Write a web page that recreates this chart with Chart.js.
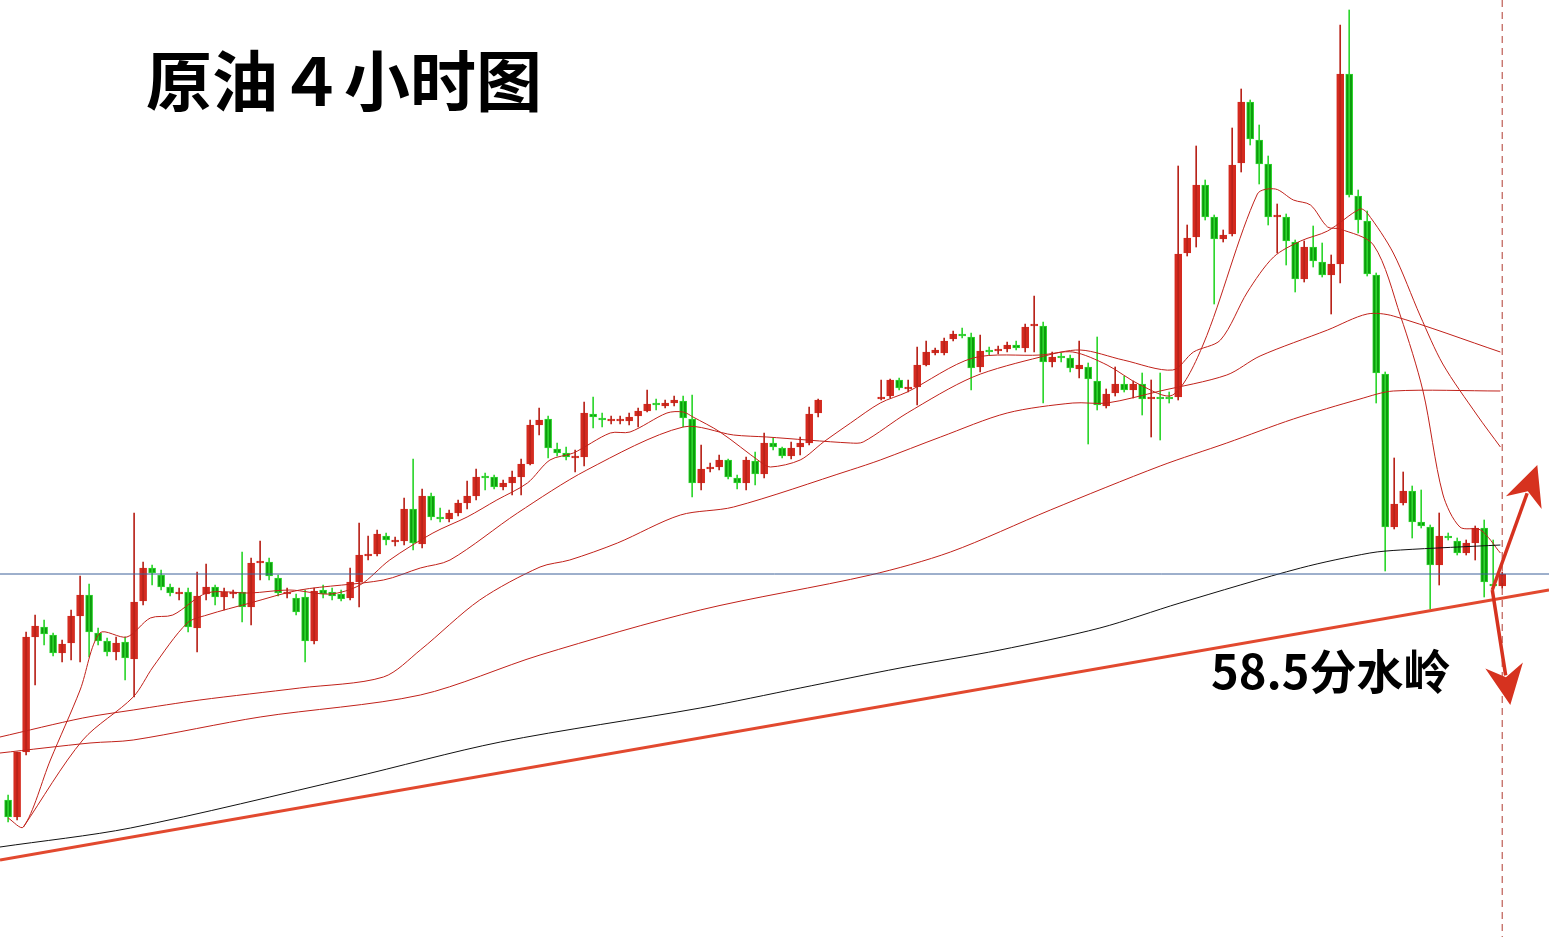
<!DOCTYPE html>
<html><head><meta charset="utf-8">
<script src="https://cdn.jsdelivr.net/npm/chart.js@4"></script>
<style>html,body{margin:0;padding:0;background:#fff;overflow:hidden}</style>
</head><body>
<canvas id="c" width="1549" height="937" style="display:block;width:1549px;height:937px"></canvas>
<script>
// candle index 0..166; indices 91-96 have no data (gap)
const candleIndex = [];
for (let i = 0; i <= 166; i++) if (i < 91 || i > 96) candleIndex.push(i);
const openP = [56.40,56.23,56.88,58.03,58.13,58.05,57.87,57.97,58.24,58.45,58.07,57.99,57.88,57.98,57.81,58.39,58.72,58.65,58.53,58.46,58.48,58.12,58.46,58.53,58.43,58.46,58.48,58.33,58.77,58.78,58.62,58.46,58.42,58.43,57.99,58.50,58.48,58.46,58.42,58.58,58.84,58.86,59.04,58.98,58.99,59.31,58.96,59.44,59.23,59.21,59.27,59.37,59.44,59.64,59.63,59.53,59.57,59.63,59.76,60.15,60.21,59.91,59.87,59.82,59.83,60.26,60.22,60.19,60.19,60.19,60.24,60.29,60.37,60.34,60.37,60.39,60.21,59.57,59.71,59.73,59.80,59.62,59.57,59.79,59.66,59.97,59.92,59.84,59.93,59.97,60.27,
60.41,60.44,60.60,60.51,60.53,60.75,60.87,60.87,61.01,61.06,61.03,60.73,60.90,60.89,60.91,60.95,60.92,61.14,61.14,60.78,60.84,60.82,60.71,60.73,60.59,60.34,60.47,60.56,60.50,60.56,60.41,60.43,60.43,60.43,61.87,62.03,62.55,62.23,62.01,62.06,62.77,63.38,63.00,62.76,62.23,62.23,61.98,61.61,61.93,61.78,61.65,61.76,63.66,62.44,62.19,61.65,60.66,59.13,59.37,59.49,59.18,59.13,58.75,59.04,58.99,58.87,58.97,59.12,58.56,58.54];
const highP = [56.45,56.88,58.08,58.25,58.20,58.07,58.00,58.30,58.64,58.56,58.12,58.02,58.03,58.03,59.27,58.78,58.75,58.70,58.56,58.52,58.52,58.68,58.76,58.55,58.52,58.50,58.88,58.82,58.99,58.82,58.65,58.52,58.46,58.50,58.52,58.55,58.52,58.50,58.72,59.17,59.04,59.10,59.07,59.03,59.42,59.81,59.51,59.47,59.32,59.30,59.40,59.59,59.71,59.67,59.65,59.60,59.69,59.81,60.20,60.32,60.24,59.97,59.93,59.90,60.38,60.43,60.27,60.24,60.24,60.27,60.32,60.50,60.41,60.40,60.44,60.44,60.45,59.95,59.77,59.85,59.81,59.65,59.83,59.88,60.07,60.02,59.93,59.98,60.03,60.33,60.41,
60.60,60.61,60.62,60.60,60.93,60.99,60.92,61.02,61.09,61.12,61.07,61.05,60.93,60.94,60.98,60.99,61.16,61.44,61.18,60.88,60.87,60.85,60.99,60.77,61.03,60.51,60.73,60.64,60.59,60.67,60.60,60.67,60.48,62.74,62.15,62.94,62.60,62.25,62.10,63.12,63.51,63.40,63.15,62.84,62.36,62.26,62.00,61.99,62.14,61.97,61.85,64.15,64.30,62.50,62.29,61.67,60.68,59.82,59.68,59.54,59.50,59.15,59.27,59.07,59.02,59.00,59.14,59.20,59.00,58.68];
const lowP = [56.18,56.20,56.85,57.55,57.95,57.84,57.78,57.80,57.78,57.83,57.95,57.84,57.80,57.60,57.43,58.35,58.55,58.50,58.44,58.40,58.08,57.88,58.40,58.35,58.30,58.42,58.18,58.15,58.60,58.60,58.44,58.42,58.25,57.78,57.96,58.42,58.40,58.39,58.40,58.33,58.80,58.84,58.95,58.94,58.95,58.90,58.92,59.20,59.18,59.18,59.24,59.31,59.40,59.50,59.51,59.50,59.45,59.45,59.75,60.05,59.82,59.84,59.80,59.68,59.74,60.12,60.13,60.16,60.16,60.15,60.13,60.28,60.30,60.32,60.34,60.13,59.43,59.50,59.68,59.70,59.61,59.51,59.50,59.55,59.62,59.90,59.82,59.81,59.85,59.95,60.23,
60.40,60.42,60.50,60.48,60.35,60.74,60.85,60.85,60.99,61.02,60.50,60.68,60.85,60.86,60.88,60.90,60.88,60.88,60.37,60.73,60.78,60.68,60.62,59.96,60.30,60.32,60.44,60.48,60.42,60.25,60.03,60.00,60.37,60.40,61.84,61.93,62.20,61.36,61.98,62.04,62.68,62.95,62.56,62.15,61.87,61.75,61.48,61.58,61.73,61.63,61.26,61.57,62.43,62.07,61.64,60.37,58.69,59.11,59.35,59.02,59.12,58.31,58.55,59.00,58.85,58.85,58.80,58.43,58.52,58.52];
const closeP = [56.23,56.88,58.03,58.14,58.06,57.87,57.96,58.24,58.45,58.08,57.99,57.88,57.97,57.82,58.38,58.72,58.67,58.53,58.47,58.48,58.13,58.44,58.53,58.43,58.48,58.48,58.33,58.77,58.79,58.64,58.47,58.48,58.28,57.99,58.49,58.46,58.44,58.41,58.58,58.85,58.86,59.06,59.00,59.00,59.31,58.97,59.44,59.23,59.21,59.27,59.37,59.44,59.63,59.62,59.53,59.57,59.63,59.76,60.15,60.20,59.92,59.87,59.83,59.84,60.27,60.23,60.20,60.21,60.21,60.23,60.29,60.36,60.35,60.37,60.40,60.22,59.57,59.71,59.73,59.80,59.63,59.57,59.80,59.66,59.97,59.93,59.84,59.92,59.97,60.26,60.40,
60.43,60.60,60.52,60.53,60.75,60.88,60.90,60.99,61.06,61.04,60.72,60.89,60.88,60.91,60.95,60.92,61.13,61.16,60.78,60.83,60.82,60.72,60.75,60.61,60.35,60.46,60.56,60.50,60.56,60.41,60.43,60.41,60.41,61.86,62.02,62.55,62.23,62.01,62.05,62.75,63.38,63.01,62.76,62.23,62.25,61.99,61.61,61.93,61.79,61.65,61.76,63.66,62.45,62.20,61.66,60.67,59.13,59.36,59.49,59.18,59.14,58.75,59.04,59.02,58.87,58.97,59.12,58.58,58.54,58.66];

// moving averages: [candle index, price]
const maFast = [[0,56.22],[1.7,56.13],[4.7,56.80],[8,57.50],[10.2,58.07],[13.2,58.03],[15.8,58.22],[18.3,58.25],[22.1,58.47],[26.9,58.47],[31.3,58.50],[35.8,58.46],[39.1,58.55],[42.4,58.80],[47.2,59.07],[51,59.23],[54.3,59.40],[57.7,59.57],[60.2,59.80],[62.8,59.87],[66.9,60.07],[69.1,60.08],[73.2,60.27],[75,60.28],[76.1,60.23],[79.1,60.08],[83.6,59.78],[84.7,59.73],[88,59.80],[90.6,59.98],[93.6,60.17],[96.9,60.37],[99.9,60.48],[107.2,60.82],[114.7,60.85],[118.3,60.88],[122.1,60.75],[125.8,60.55],[129.4,60.45],[132.8,60.96],[138.8,62.46],[140.8,62.51],[142.8,62.40],[144.7,62.35],[146.6,62.13],[148,62.11],[151.7,61.95],[154.7,61.24],[157.2,60.49],[159.4,59.46],[161.3,59.13],[163.6,59.10],[165.8,58.87]];
const maMid = [[1.7,56.13],[8.3,57.00],[13.9,57.43],[16.1,57.73],[19.9,58.17],[22.1,58.25],[26.9,58.37],[32.4,58.50],[41.7,58.60],[45.8,58.72],[49.1,58.80],[56.6,59.27],[64.3,59.70],[75,60.13],[80.6,60.05],[84.3,60.03],[93.6,59.97],[95,59.98],[99.9,60.27],[107.2,60.63],[114.7,60.83],[119.1,60.90],[123.9,60.80],[129.4,60.70],[131.7,60.88],[134.7,61.00],[137.7,61.48],[140.6,61.83],[143.6,61.99],[146.6,62.09],[150.2,62.31],[151,62.27],[153.9,61.87],[156.9,61.24],[159.4,60.76],[163.2,60.25],[165.8,59.93]];
const maSlow1 = [[-0.9,57.03],[8.3,57.22],[13.9,57.30],[21.3,57.40],[32.4,57.52],[41.7,57.63],[45.8,57.90],[52.4,58.40],[59.1,58.73],[62.4,58.80],[67.7,58.97],[74.7,59.25],[80.6,59.33],[93.6,59.70],[96.9,59.80],[103.6,60.03],[111,60.27],[118.3,60.37],[122.1,60.37],[128,60.49],[135.4,60.65],[139.1,60.84],[146.6,61.10],[151,61.26],[153.9,61.24],[165.8,60.88]];
const maSlow2 = [[-0.9,56.87],[9.1,56.97],[13.9,57.00],[28,57.23],[45.8,57.45],[59.1,57.85],[76.9,58.30],[95.8,58.65],[104.7,58.88],[115.8,59.30],[128,59.74],[135.4,59.97],[142.8,60.21],[150.2,60.41],[153.9,60.49],[165.8,60.49]];
const maLong = [[-0.9,55.93],[13.6,56.12],[38,56.62],[54.7,56.98],[76.9,57.32],[88,57.52],[99.1,57.72],[110.2,57.90],[121.3,58.12],[130.2,58.37],[143.6,58.72],[151.3,58.87],[154.7,58.90],[165.8,58.95]];
const trendLine = [[-0.9,55.80],[171.2,58.50]];
const levelLine = [[-0.9,58.66],[171.2,58.66]];
const titleText = '原油４小时图';
const labelText = '58.5分水岭';

const RED='#d42a1f', GREEN='#0c9c0c', GREENW='#2ed62e';
const up = i => closeP[i] >= openP[i];
const bodies = candleIndex.map((x,i)=>({x, y:[Math.min(openP[i],closeP[i]), Math.max(openP[i],closeP[i])]}));
const wicks = candleIndex.map((x,i)=>({x, y:[lowP[i], highP[i]]}));
const bodyCol = candleIndex.map((x,i)=> up(i)?RED:GREEN);
const bodyBorder = candleIndex.map((x,i)=> up(i)?RED:GREENW);
const wickCol = candleIndex.map((x,i)=> up(i)?'#b8231a':GREENW);
const pts = a => a.map(p=>({x:p[0], y:p[1]}));
const line = (d,c,w,extra) => Object.assign({type:'line', data:pts(d), borderColor:c, borderWidth:w, pointRadius:0, tension:0.3, fill:false}, extra||{});

const overlay = {
  id:'overlay',
  afterDatasetsDraw(chart){
    const ctx=chart.ctx, xs=chart.scales.x, ys=chart.scales.y;
    const P=(i,p)=>[xs.getPixelForValue(i), ys.getPixelForValue(p)];
    ctx.save();
    const vx = xs.getPixelForValue(166);
    ctx.strokeStyle='#b03a30'; ctx.lineWidth=1; ctx.setLineDash([7,5]);
    ctx.beginPath(); ctx.moveTo(vx,0); ctx.lineTo(vx,937); ctx.stroke();
    ctx.setLineDash([]);
    const arrow=(a,b)=>{
      const [x1,y1]=P(a[0],a[1]), [x2,y2]=P(b[0],b[1]);
      const ang=Math.atan2(y2-y1,x2-x1), L=40, W=19;
      const bx=x2-L*Math.cos(ang), by=y2-L*Math.sin(ang);
      ctx.strokeStyle='#d6321f'; ctx.lineWidth=3.5;
      ctx.beginPath(); ctx.moveTo(x1,y1); ctx.lineTo(bx+10*Math.cos(ang),by+10*Math.sin(ang)); ctx.stroke();
      ctx.fillStyle='#d6321f'; ctx.beginPath();
      ctx.moveTo(x2,y2);
      ctx.lineTo(bx+W*Math.sin(ang), by-W*Math.cos(ang));
      ctx.lineTo(bx+12*Math.cos(ang), by+12*Math.sin(ang));
      ctx.lineTo(bx-W*Math.sin(ang), by+W*Math.cos(ang));
      ctx.closePath(); ctx.fill();
    };
    arrow([164.9,58.50],[169.9,59.75]);
    arrow([164.9,58.50],[166.9,57.35]);
    ctx.fillStyle='#000'; ctx.textBaseline='middle'; ctx.textAlign='left';
    ctx.font='bold 66px "Noto Sans CJK SC"';
    ctx.fillText(titleText,146,81);
    ctx.font='bold 47px "Noto Sans CJK SC"';
    ctx.fillText(labelText,1211,671);
    ctx.restore();
  }
};

new Chart(document.getElementById('c'), {
  data:{datasets:[
    line(trendLine,'#e2492f',3,{tension:0}),
    line(levelLine,'#3c6199',1,{tension:0}),
    line(maLong,'#111',1),
    line(maSlow2,'#c0211a',1),
    line(maSlow1,'#c0211a',1),
    line(maMid,'#c0211a',1),
    line(maFast,'#c0211a',1),
    {type:'bar', data:wicks, backgroundColor:wickCol, barThickness:1, grouped:false, borderWidth:0},
    {type:'bar', data:bodies, backgroundColor:bodyCol, borderColor:bodyBorder, borderWidth:1, borderSkipped:false, barThickness:7, minBarLength:2, grouped:false}
  ]},
  options:{
    responsive:false, devicePixelRatio:1, animation:false,
    layout:{padding:0},
    plugins:{legend:{display:false}, tooltip:{enabled:false}},
    scales:{
      x:{type:'linear', min:-0.9, max:171.2, display:false, offset:false},
      y:{type:'linear', min:55.03, max:64.40, display:false}
    }
  },
  plugins:[overlay]
});
</script>
</body></html>
